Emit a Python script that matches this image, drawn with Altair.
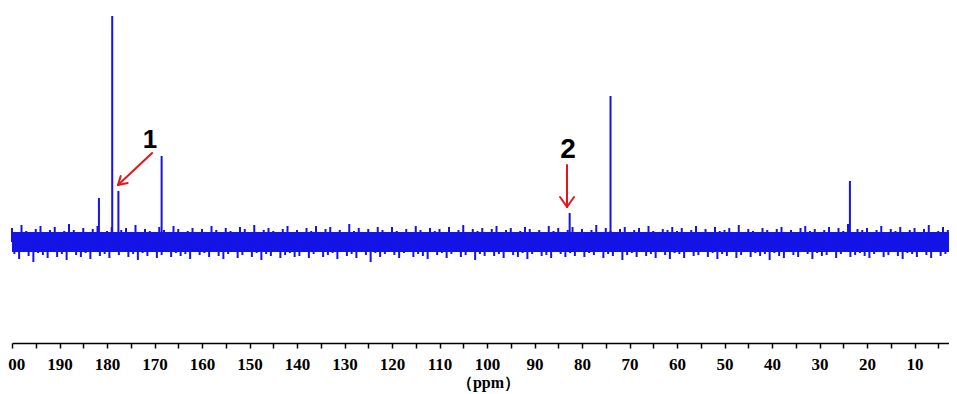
import altair as alt
import pandas as pd

# ---- data ----
# noise spikes (arbitrary units, baseline = 0), one pair per 1 ppm from 200 ppm downwards
noise_hi = [14,9,17,11,8,13,16,10,12,15,9,11,18,12,8,14,10,13,16,9,
            11,15,8,12,14,10,17,9,13,11,8,15,12,10,16,13,9,11,14,8,
            13,10,16,12,9,14,11,8,15,13,10,17,9,12,14,11,8,13,16,10,
            12,8,14,11,16,9,13,15,10,12,8,18,11,14,9,13,10,15,12,9,
            15,11,9,13,10,16,12,8,14,11,13,9,15,10,12,17,9,13,11,14,
            10,13,16,9,12,14,8,11,15,13,10,12,9,16,11,14,8,12,15,10,
            13,9,12,17,10,14,11,8,13,15,9,12,14,10,16,11,9,13,12,15,
            11,14,9,12,16,10,13,8,15,11,12,14,9,17,10,13,11,8,14,12,
            9,13,15,10,12,8,14,16,11,13,9,12,15,10,14,11,18,9,13,12,
            14,10,12,16,9,13,11,15,8,12,14,10,13,17,9,11,15,12]
noise_lo = [-12,-17,-9,-14,-20,-11,-13,-16,-10,-15,-12,-18,-9,-13,-15,-11,-17,-10,-14,-12,
            -16,-10,-13,-9,-15,-12,-18,-11,-14,-10,-16,-13,-9,-15,-11,-14,-12,-17,-10,-13,
            -11,-15,-9,-14,-17,-12,-10,-16,-13,-9,-15,-11,-18,-12,-14,-10,-16,-13,-11,-15,
            -14,-10,-16,-12,-9,-15,-13,-11,-17,-10,-14,-12,-16,-9,-13,-20,-11,-15,-12,-10,
            -13,-16,-11,-9,-15,-12,-14,-17,-10,-13,-11,-16,-12,-9,-15,-13,-10,-18,-12,-14,
            -10,-14,-12,-16,-9,-13,-15,-11,-17,-12,-10,-14,-13,-16,-9,-12,-15,-11,-14,-10,
            -15,-11,-13,-9,-16,-12,-14,-10,-18,-13,-11,-15,-9,-14,-12,-16,-10,-13,-17,-11,
            -12,-16,-10,-14,-13,-9,-15,-11,-17,-12,-14,-10,-16,-13,-9,-15,-11,-14,-12,-18,
            -11,-14,-16,-10,-13,-15,-9,-12,-17,-11,-14,-13,-10,-16,-12,-9,-15,-13,-11,-14,
            -16,-12,-10,-15,-13,-9,-14,-17,-11,-12,-15,-10,-13,-16,-9,-14,-12,-11]
noise_start_ppm = 200
noise_end_ppm = 2.74
noise_core = [10, -10]        # solid part of the noise band

peak_ppm = [181.7, 178.9, 177.6, 168.5, 82.6, 74.0, 23.6]
peak_height = [44, 226, 51, 86, 29, 146, 61]

# annotations (ppm, intensity)
label_text = ["1", "2"]
label_ppm = [170.95, 82.95]
label_int = [102, 92]
label_size = [26, 28]

arrow_x1 = [170.5, 177.68, 177.68, 83.16, 83.16, 83.16]
arrow_y1 = [89, 57, 57, 77, 35, 35]
arrow_x2 = [177.68, 175.65, 177.12, 83.16, 84.63, 81.68]
arrow_y2 = [57, 59, 66, 35, 45, 45]

x_domain = [2.74, 200]
y_domain = [-101, 234]
major_ticks = list(range(10, 201, 10))
minor_ticks = list(range(5, 200, 10))

# ---- tables ----
rows = []
for i, (h, l) in enumerate(zip(noise_hi, noise_lo)):
    p = noise_start_ppm - i
    rows.append({"ppm": p, "top": h, "bot": 0})
    rows.append({"ppm": p - 0.5, "top": 0, "bot": l})
spikes = pd.DataFrame(rows)
core = pd.DataFrame({"ppm": [noise_start_ppm, noise_end_ppm],
                     "top": [noise_core[0]] * 2, "bot": [noise_core[1]] * 2})
peaks = pd.DataFrame({"ppm": peak_ppm, "h": peak_height, "b": [0] * len(peak_ppm)})
labels = pd.DataFrame({"ppm": label_ppm, "v": label_int, "t": label_text, "s": label_size})
arrows = pd.DataFrame({"x1": arrow_x1, "y1": arrow_y1, "x2": arrow_x2, "y2": arrow_y2})
minor = pd.DataFrame({"ppm": minor_ticks})

xs = alt.Scale(domain=x_domain, reverse=True, nice=False, zero=False)
ys = alt.Scale(domain=y_domain, nice=False, zero=False)
BLUE = "#1414e6"

xaxis = alt.Axis(values=major_ticks, title="（ppm）", grid=False, labelFlush=False,
                 labelOverlap=False, labelBound=False, orient="bottom",
                 domainColor="black", domainWidth=1.5, tickColor="black", tickWidth=1.5, tickSize=5,
                 labelFont="Liberation Serif", labelFontSize=17, labelFontWeight="bold", labelColor="black",
                 labelPadding=8, titleFont="Liberation Serif", titleFontSize=16, titleFontWeight="bold",
                 titleColor="black", titlePadding=2, titleX=476)
minor_axis = alt.Axis(values=minor_ticks, labels=False, title=None, grid=False, domain=False,
                      orient="bottom", tickColor="black", tickWidth=1.5, tickSize=5)

core_area = alt.Chart(core).mark_area(color=BLUE, opacity=1).encode(
    x=alt.X("ppm:Q", scale=xs, axis=xaxis),
    y=alt.Y("top:Q", scale=ys, axis=None),
    y2="bot:Q",
)
spike_rules = alt.Chart(spikes).mark_rule(color=BLUE, strokeWidth=2).encode(
    x="ppm:Q", y="top:Q", y2="bot:Q"
)
peak_rules = alt.Chart(peaks).mark_rule(color=BLUE, strokeWidth=2).encode(
    x="ppm:Q", y="h:Q", y2="b:Q"
)
arrow_rules = alt.Chart(arrows).mark_rule(color="#e8141c", strokeWidth=2, strokeCap="round").encode(
    x="x1:Q", y="y1:Q", x2="x2:Q", y2="y2:Q"
)
texts = alt.Chart(labels).mark_text(font="Liberation Sans", fontWeight="bold", color="black",
                                    baseline="middle", align="center").encode(
    x="ppm:Q", y="v:Q", text="t:N", size=alt.Size("s:Q", scale=None, legend=None)
)
minor_layer = alt.Chart(minor).mark_point(opacity=0).encode(
    x=alt.X("ppm:Q", scale=xs, axis=minor_axis), y=alt.value(0)
)

main = alt.layer(core_area, spike_rules, peak_rules, arrow_rules, texts)
chart = alt.layer(main, minor_layer).resolve_axis(x="independent").properties(
    width=937, height=335,
    autosize=alt.AutoSizeParams(type="none"),
    padding={"left": 4, "top": 0, "right": 0, "bottom": 50},
).configure(background="white").configure_view(strokeWidth=0, stroke="transparent")

chart.save("out.html", embed_options={"renderer": "svg", "actions": False})
